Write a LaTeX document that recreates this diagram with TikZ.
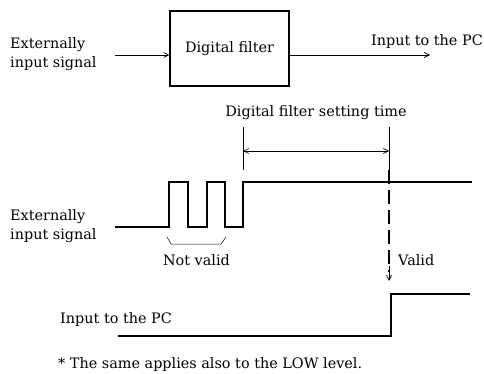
\documentclass[tikz,border=0pt]{standalone}
\usepackage{fontspec}
\setmainfont{DejaVu Serif}
\usetikzlibrary{arrows.meta,positioning}

\begin{document}
\begin{tikzpicture}[x=1pt,y=-1pt,
  every node/.style={font=\fontsize{14.4}{19.5}\selectfont},
  label/.style={align=left,anchor=west,inner sep=0pt},
  sig/.style={line width=1.8pt},
  conn/.style={line width=.7pt,-{Straight Barb[length=5pt,width=5pt]}}]
\useasboundingbox (0,0) rectangle (484,374);
% block diagram
\node[draw,line width=1.1pt,minimum width=119pt,minimum height=75pt] (filt) at (229.5,48.5) {Digital filter};
\node[label] (extin) at (10,54) {Externally\\input signal};
\coordinate (inbeg) at (115,55);
\coordinate (outend) at (430,55);
\node[label,anchor=east] (pcout) at (483,42) {Input to the PC};
\draw[conn] (inbeg) -- (filt.west |- inbeg);
\draw[conn] (filt.east |- outend) -- (outend);
% setting time
\node[inner sep=0pt] (settime) at (316,113) {Digital filter setting time};
\coordinate (tl) at (243,127);
\coordinate (tr) at (389,127);
\draw[line width=.6pt] (tl) -- (243,170);
\draw[line width=.6pt] (tr) -- (389,170);
\draw[line width=.6pt,{Straight Barb[length=5pt,width=5pt]}-{Straight Barb[length=5pt,width=5pt]}] (243,151) -- (389,151);
% externally input signal
\node[label] (extsig) at (10,226) {Externally\\input signal};
\draw[sig] (115,227) -- (169,227) -- (169,182) -- (188,182) -- (188,227) -- (207,227)
  -- (207,182) -- (225,182) -- (225,227) -- (243,227) -- (243,182) -- (472,182);
% not valid bracket
\draw[line width=.5pt] (167,237) -- (171,244) -- (221,244) -- (226,237);
\node[inner sep=0pt] (notvalid) at (196.5,260) {Not valid};
% valid
\coordinate (vtop) at (389,170);
\coordinate (vbot) at (389,281);
\draw[line width=1.5pt,dash pattern=on 14pt off 6pt] (vtop) -- (389,272);
\draw[line width=.7pt,-{Straight Barb[length=5pt,width=5pt]}] (389,266) -- (vbot);
\node[label] (valid) at (398,260) {Valid};
% input to the PC
\node[label] (pcin) at (60,320) {Input to the PC};
\draw[sig] (118,336) -- (391,336) -- (391,294) -- (470,294);
% note
\node[label] (note) at (58,365) {* The same applies also to the LOW level.};
\end{tikzpicture}
\end{document}
